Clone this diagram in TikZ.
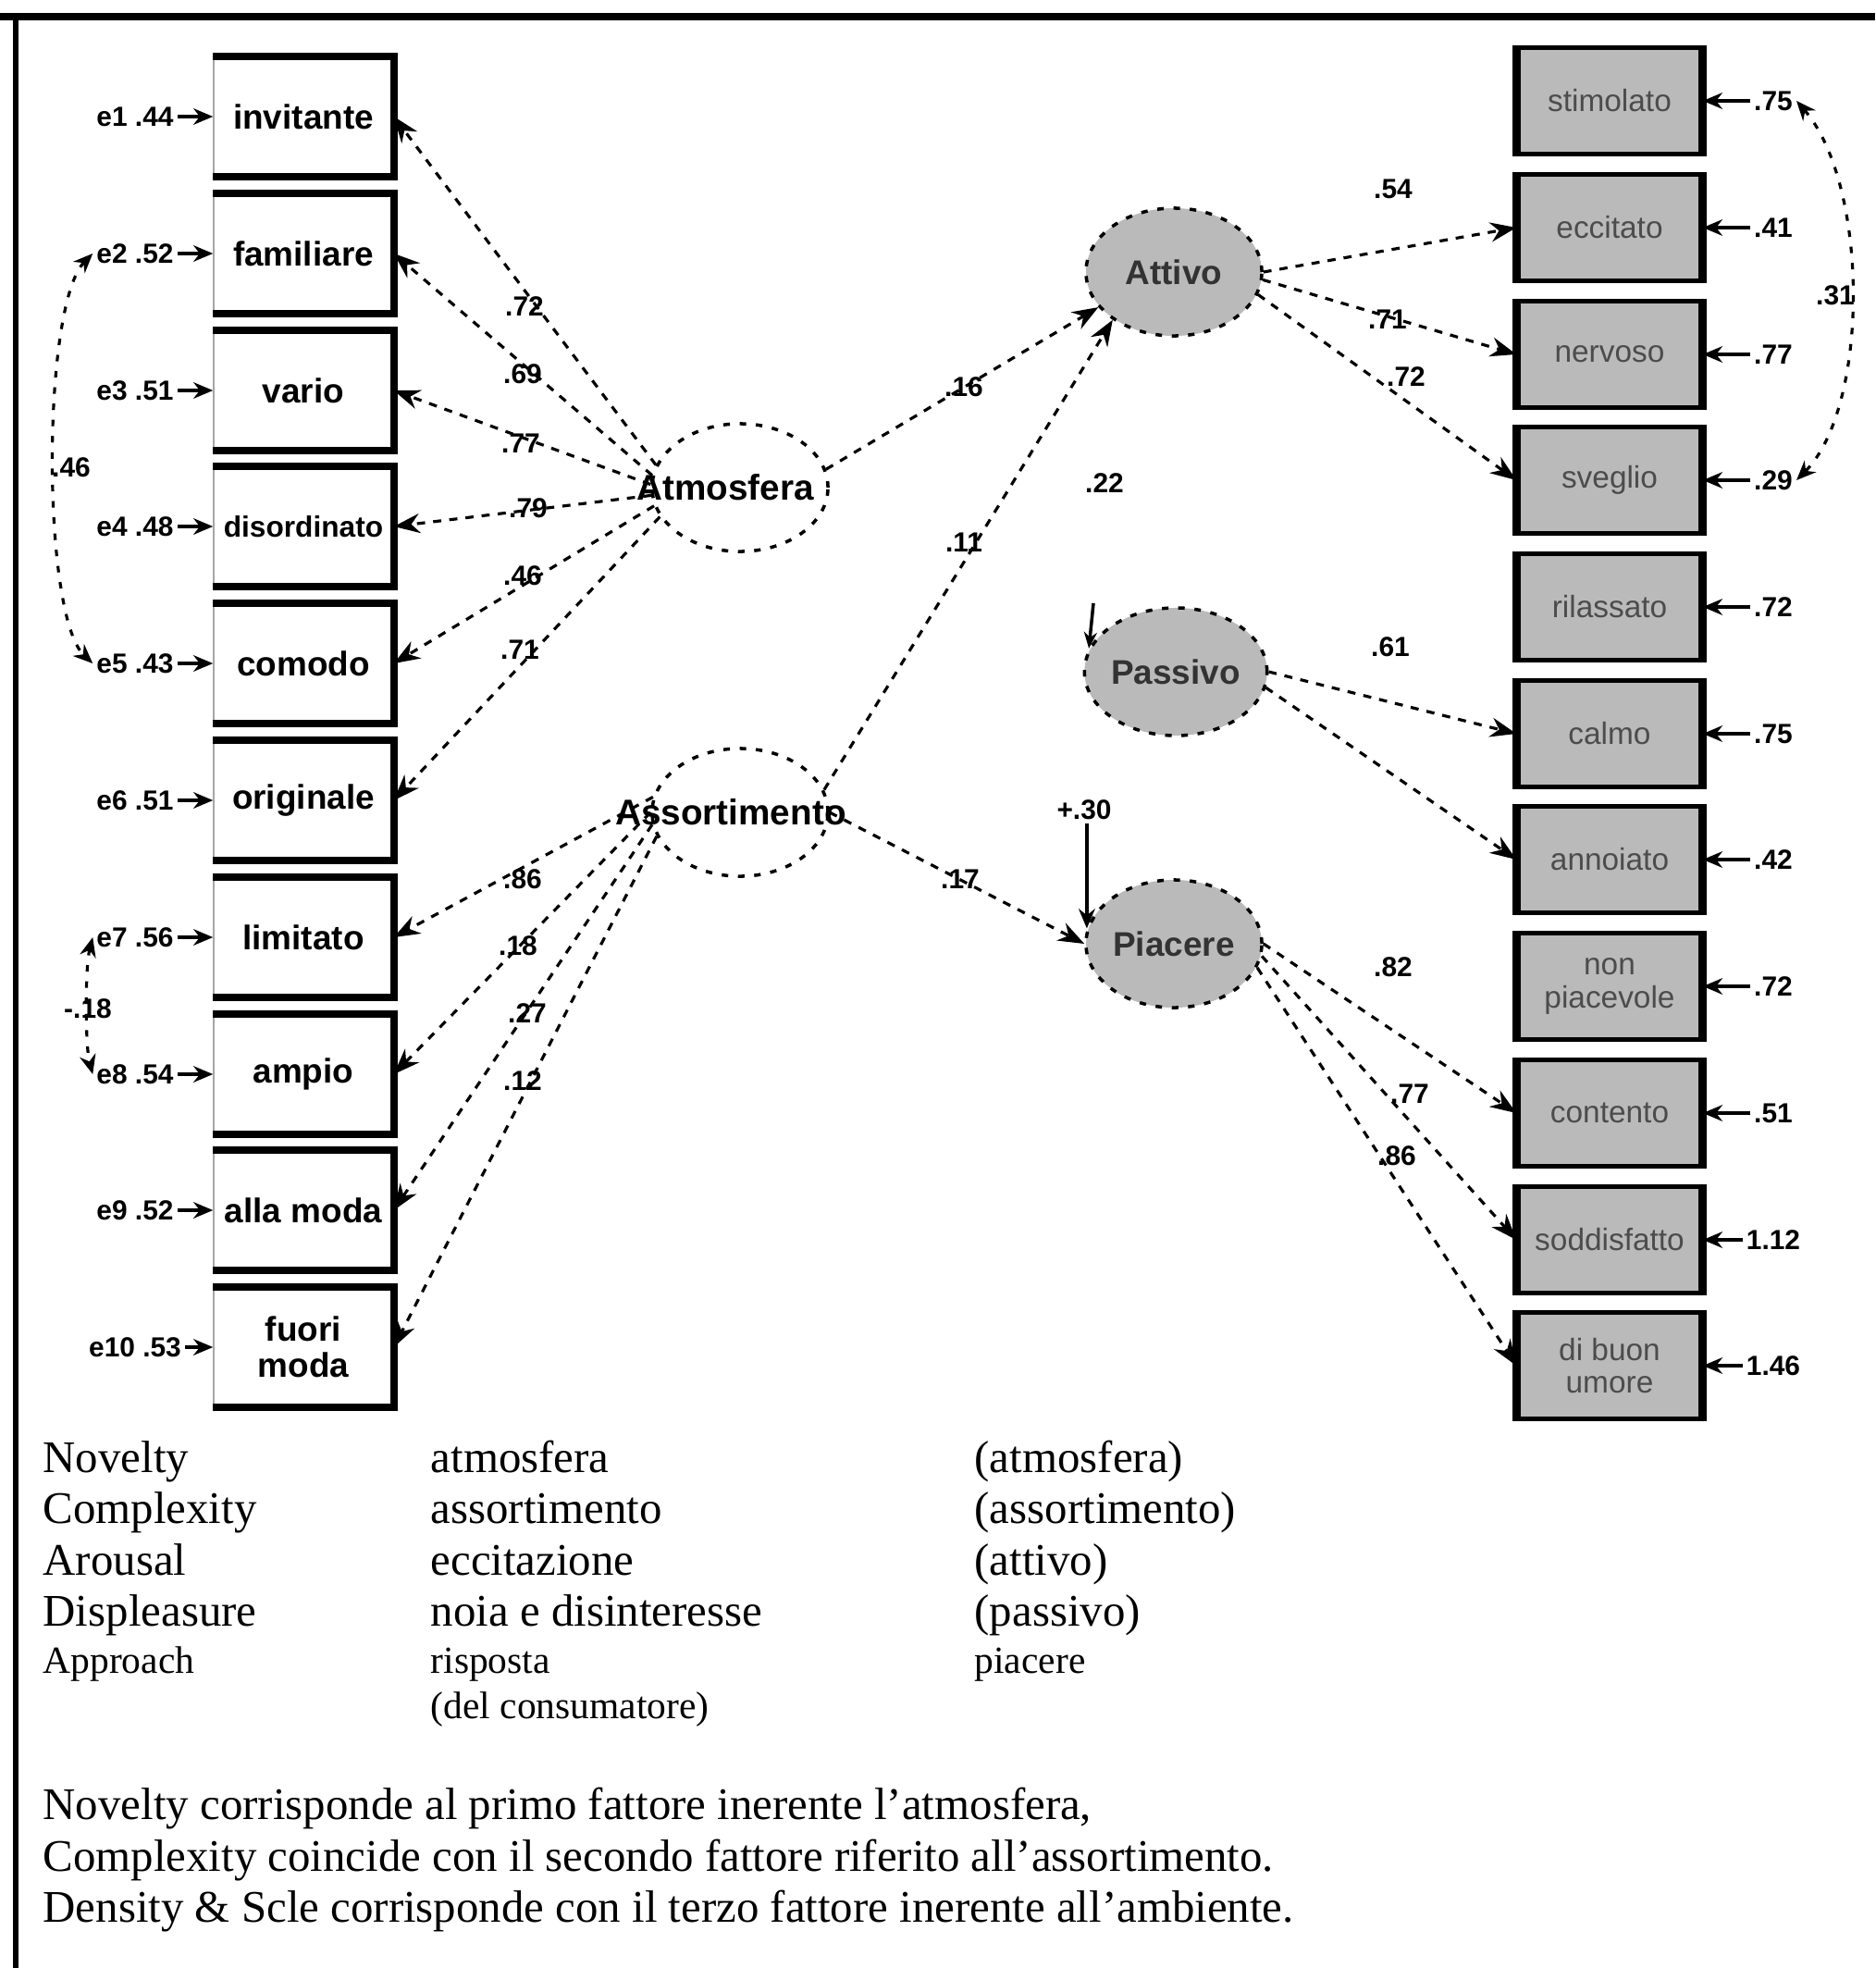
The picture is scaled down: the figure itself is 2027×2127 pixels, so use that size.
\documentclass[tikz,border=0pt]{standalone}
\usepackage{fontspec}
\setmainfont{Liberation Serif}
\setsansfont{Liberation Sans}
\usetikzlibrary{arrows.meta,shapes.geometric}
\begin{document}
\begin{tikzpicture}[x=0.01cm,y=-0.01cm,
 lbox/.style={rectangle, minimum width=1.94cm, minimum height=1.28cm, draw=black!35, line width=0.4pt,
   font=\sffamily\bfseries\fontsize{10.5}{11}\selectfont, inner sep=2pt, align=center},
 rbox/.style={rectangle, minimum width=1.97cm, minimum height=1.15cm, fill=black!27, draw=black, line width=1.3pt,
   font=\sffamily\fontsize{9.5}{10}\selectfont, text=black!70, align=center},
 lat/.style={ellipse, minimum width=1.9cm, minimum height=1.38cm, draw, dash pattern=on 2pt off 3pt, line width=1pt, inner sep=0pt},
 rlat/.style={lat, fill=black!27, font=\sffamily\bfseries\fontsize{10.5}{11}\selectfont, text=black!80},
 lattxt/.style={font=\sffamily\bfseries\fontsize{11}{12}\selectfont, inner sep=0pt},
 conn/.style={dash pattern=on 2.5pt off 2.5pt, line width=0.9pt, -{Stealth[length=8pt,width=6pt]}},
 errtxt/.style={font=\sffamily\bfseries\fontsize{8.5}{9}\selectfont, inner sep=1pt},
 coef/.style={font=\sffamily\bfseries\fontsize{8.5}{9}\selectfont, inner sep=1pt},
 errarr/.style={line width=1pt, -{Stealth[length=6pt,width=5pt]}},
 cov/.style={dash pattern=on 2pt off 3pt, line width=0.9pt, {Stealth[length=6pt,width=5pt]}-{Stealth[length=6pt,width=5pt]}},
 legA/.style={font=\fontsize{13.9}{16}\selectfont, anchor=base west, inner sep=0pt},
 legB/.style={font=\fontsize{11.8}{14}\selectfont, anchor=base west, inner sep=0pt}]
\useasboundingbox (0,0) rectangle (2027,2127);
% frame
\draw[line width=2.4pt] (0,18) -- (2027,18);
\draw[line width=1.5pt] (17,18) -- (17,2127);

% left indicator boxes
\node[lbox] (b1) at (328,126) {invitante};
\node[lbox] (b2) at (328,274) {familiare};
\node[lbox] (b3) at (328,422) {vario};
\node[lbox] (b4) at (328,569) {\fontsize{9}{10}\selectfont disordinato};
\node[lbox] (b5) at (328,717) {comodo};
\node[lbox] (b6) at (328,865) {originale};
\node[lbox] (b7) at (328,1013) {limitato};
\node[lbox] (b8) at (328,1161) {ampio};
\node[lbox] (b9) at (328,1308) {alla moda};
\node[lbox] (b10) at (328,1456) {fuori\\moda};
\foreach \i in {1,...,10}
  \draw[line width=2.2pt] (b\i.north west) -- (b\i.north east) -- (b\i.south east) -- (b\i.south west);

% left error terms
\node[errtxt] (le1) at (146,126) {e1 .44};
\node[errtxt] (le2) at (146,274) {e2 .52};
\node[errtxt] (le3) at (146,422) {e3 .51};
\node[errtxt] (le4) at (146,569) {e4 .48};
\node[errtxt] (le5) at (146,717) {e5 .43};
\node[errtxt] (le6) at (146,865) {e6 .51};
\node[errtxt] (le7) at (146,1013) {e7 .56};
\node[errtxt] (le8) at (146,1161) {e8 .54};
\node[errtxt] (le9) at (146,1308) {e9 .52};
\node[errtxt] (le10) at (146,1456) {e10 .53};
\foreach \i in {1,...,10}
  \draw[errarr] (le\i) -- (b\i.west);

% left covariances
\draw[cov] (le2.west) .. controls (45,330) and (45,665) .. (le5.west);
\node[coef] (cl1) at (77,505) {.46};
\draw[cov] (le7.west) .. controls (92,1045) and (92,1130) .. (le8.west);
\node[coef] (cl2) at (95,1090) {-.18};

% left latent variables
\node[lat] (atm) at (800,527) {};
\node[lattxt] (atmT) at (784,527) {Atmosfera};
\node[lat] (asr) at (800,878) {};
\node[lattxt] (asrT) at (790,878) {Assortimento};

% right latent variables
\node[rlat] (att) at (1269,294) {Attivo};
\node[rlat] (pas) at (1271,726) {Passivo};
\node[rlat] (pia) at (1269,1020) {Piacere};

% loadings left
\draw[conn] (atm.165) -- (b1.east);
\draw[conn] (atm.172) -- (b2.east);
\draw[conn] (atm.178) -- (b3.east);
\draw[conn] (atm.185) -- (b4.east);
\draw[conn] (atm.192) -- (b5.east);
\draw[conn] (atm.200) -- (b6.east);
\draw[conn] (asr.170) -- (b7.east);
\draw[conn] (asr.180) -- (b8.east);
\draw[conn] (asr.188) -- (b9.east);
\draw[conn] (asr.196) -- (b10.east);
\node[coef] (l1) at (567,331) {.72};
\node[coef] (l2) at (565,404) {.69};
\node[coef] (l3) at (563,479) {.77};
\node[coef] (l4) at (571,549) {.79};
\node[coef] (l5) at (565,622) {.46};
\node[coef] (l6) at (562,702) {.71};
\node[coef] (l7) at (565,950) {.86};
\node[coef] (l8) at (560,1022) {.18};
\node[coef] (l9) at (570,1095) {.27};
\node[coef] (l10) at (565,1168) {.12};

% structural paths
\draw[conn] (atm.12) -- (att.205);
\draw[conn] (asr.15) -- (att.218);
\draw[conn] (asr.east) -- (pia.west);
\node[coef] (s1) at (1042,418) {.16};
\node[coef] (s2) at (1042,586) {.11};
\node[coef] (s3) at (1038,950) {.17};
\node[coef] (s4) at (1194,522) {.22};
\node[coef] (dpiaT) at (1172,875) {+.30};
\draw[line width=1pt, -{Stealth[length=6pt,width=5pt]}] (dpiaT.south -| pia.170) -- (pia.170);
\coordinate (dpas) at (1182,652);
\draw[line width=1pt, -{Stealth[length=5pt,width=4pt]}] (dpas) -- (pas.165);

% right indicator boxes
\node[rbox] (r1) at (1740,109) {stimolato};
\node[rbox] (r2) at (1740,246) {eccitato};
\node[rbox] (r3) at (1740,383) {nervoso};
\node[rbox] (r4) at (1740,519) {sveglio};
\node[rbox] (r5) at (1740,656) {rilassato};
\node[rbox] (r6) at (1740,793) {calmo};
\node[rbox] (r7) at (1740,929) {annoiato};
\node[rbox] (r8) at (1740,1066) {non\\piacevole};
\node[rbox] (r9) at (1740,1203) {contento};
\node[rbox] (r10) at (1740,1340) {soddisfatto};
\node[rbox] (r11) at (1740,1476) {di buon\\umore};
\foreach \i in {1,...,11}
  \draw[line width=2.4pt] (r\i.north west) -- (r\i.south west) (r\i.north east) -- (r\i.south east);

% right error terms
\node[errtxt] (re1) at (1917,109) {.75};
\node[errtxt] (re2) at (1917,246) {.41};
\node[errtxt] (re3) at (1917,383) {.77};
\node[errtxt] (re4) at (1917,519) {.29};
\node[errtxt] (re5) at (1917,656) {.72};
\node[errtxt] (re6) at (1917,793) {.75};
\node[errtxt] (re7) at (1917,929) {.42};
\node[errtxt] (re8) at (1917,1066) {.72};
\node[errtxt] (re9) at (1917,1203) {.51};
\node[errtxt] (re10) at (1917,1340) {1.12};
\node[errtxt] (re11) at (1917,1476) {1.46};
\foreach \i in {1,...,11}
  \draw[errarr] (re\i) -- (r\i.east);
\draw[cov] (re1.east) .. controls (2021,200) and (2021,440) .. (re4.east);
\node[coef] (cr1) at (1984,319) {.31};

% right loadings
\draw[conn] (att.east) -- (r2.west);
\draw[conn] (att.-5) -- (r3.west);
\draw[conn] (att.-15) -- (r4.west);
\draw[conn] (pas.east) -- (r6.west);
\draw[conn] (pas.-10) -- (r7.west);
\draw[conn] (pia.east) -- (r9.west);
\draw[conn] (pia.-8) -- (r10.west);
\draw[conn] (pia.-16) -- (r11.west);
\node[coef] (k1) at (1506,204) {.54};
\node[coef] (k2) at (1500,345) {.71};
\node[coef] (k3) at (1520,407) {.72};
\node[coef] (k4) at (1503,699) {.61};
\node[coef] (k5) at (1506,1045) {.82};
\node[coef] (k6) at (1524,1182) {.77};
\node[coef] (k7) at (1510,1249) {.86};

% legend
\node[legA] (g11) at (46,1591) {Novelty};
\node[legA] (g12) at (465,1591) {atmosfera};
\node[legA] (g13) at (1053,1591) {(atmosfera)};
\node[legA] (g21) at (46,1646) {Complexity};
\node[legA] (g22) at (465,1646) {assortimento};
\node[legA] (g23) at (1053,1646) {(assortimento)};
\node[legA] (g31) at (46,1702) {Arousal};
\node[legA] (g32) at (465,1702) {eccitazione};
\node[legA] (g33) at (1053,1702) {(attivo)};
\node[legA] (g41) at (46,1757) {Displeasure};
\node[legA] (g42) at (465,1757) {noia e disinteresse};
\node[legA] (g43) at (1053,1757) {(passivo)};
\node[legB] (g51) at (46,1808) {Approach};
\node[legB] (g52) at (465,1808) {risposta};
\node[legB] (g53) at (1053,1808) {piacere};
\node[legB] (g62) at (465,1857) {(del consumatore)};
\node[legA] (p1) at (46,1966) {Novelty corrisponde al primo fattore inerente l’atmosfera,};
\node[legA] (p2) at (46,2022) {Complexity coincide con il secondo fattore riferito all’assortimento.};
\node[legA] (p3) at (46,2077) {Density \& Scle corrisponde con il terzo fattore inerente all’ambiente.};
\end{tikzpicture}
\end{document}
